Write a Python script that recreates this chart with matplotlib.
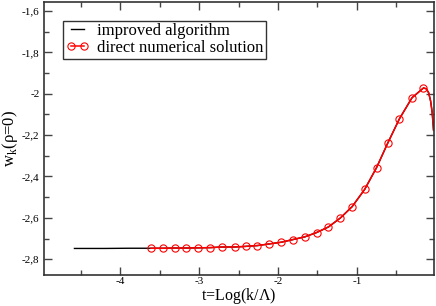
import matplotlib
matplotlib.use("Agg")
import matplotlib.pyplot as plt
from matplotlib.ticker import MultipleLocator, FuncFormatter

# direct numerical solution: circles
circle_t = [-3.61, -3.46, -3.31, -3.16, -3.01, -2.86, -2.71, -2.55, -2.41,
            -2.26, -2.11, -1.96, -1.81, -1.66, -1.51, -1.36, -1.21, -1.06,
            -0.90, -0.75, -0.61, -0.46, -0.30, -0.155]
circle_w = [-2.747, -2.747, -2.746, -2.746, -2.745, -2.744, -2.741, -2.741,
            -2.738, -2.734, -2.726, -2.718, -2.705, -2.692, -2.671, -2.644,
            -2.601, -2.546, -2.462, -2.357, -2.240, -2.121, -2.019, -1.972]
# the red curve runs on past the last circle and falls at the right edge
tail_t = [-0.12, -0.09, -0.065, -0.045, -0.028]
tail_w = [-1.976, -1.995, -2.035, -2.090, -2.175]

# improved algorithm: the visible lead-in, then it sits under the red curve
lead_t = [-4.58, -4.20, -3.90]
lead_w = [-2.748, -2.748, -2.747]

num_t = circle_t + tail_t
num_w = circle_w + tail_w
imp_t = lead_t + num_t
imp_w = lead_w + num_w

serif = ["Liberation Serif", "DejaVu Serif"]
plt.rcParams["font.family"] = serif
plt.rcParams["mathtext.fontset"] = "custom"
plt.rcParams["mathtext.rm"] = "Liberation Serif"

fig = plt.figure(figsize=(4.36, 3.06), dpi=100)
ax = fig.add_axes([0.1002, 0.1029, 0.8941, 0.8915])

ax.plot(imp_t, imp_w, color="black", lw=1.0, label="improved algorithm")
ax.plot(num_t, num_w, color="red", lw=1.1, marker="o", ms=5.2,
        mfc="none", mec="red", mew=0.8, markevery=list(range(len(circle_t))),
        label="direct numerical solution")

ax.set_xlim(-4.97, -0.028)
ax.set_ylim(-2.874, -1.555)

ax.xaxis.set_major_locator(MultipleLocator(1))
ax.xaxis.set_minor_locator(MultipleLocator(0.5))
ax.yaxis.set_major_locator(MultipleLocator(0.2))
ax.yaxis.set_minor_locator(MultipleLocator(0.1))
comma = FuncFormatter(lambda v, p: f"{v:.10g}".replace(".", ",")
                      if abs(v) > 1e-9 else "0")
ax.xaxis.set_major_formatter(comma)
ax.yaxis.set_major_formatter(comma)

ax.tick_params(which="both", direction="in", top=True, right=True,
               labelsize=8, pad=3, color="#444444")
ax.tick_params(axis="x", which="major", pad=2)
ax.tick_params(which="major", length=6, width=1)
ax.tick_params(which="minor", length=3.5, width=1)
for s in ax.spines.values():
    s.set_linewidth(1.2)
    s.set_color("#333333")

ax.set_xlabel(r"t=Log(k/$\Lambda$)", fontsize=11.5, labelpad=0)
ax.set_ylabel(r"w$_\mathregular{k}$(ρ=0)", fontsize=12, labelpad=1)

leg = ax.legend(loc="upper left", bbox_to_anchor=(0.05, 0.93),
                fontsize=12, frameon=True, fancybox=False, borderaxespad=0,
                borderpad=0.15, labelspacing=0.05, handlelength=1.4,
                handletextpad=0.5, numpoints=2)
leg.get_frame().set_edgecolor("black")
leg.get_frame().set_linewidth(1.0)

fig.savefig("out.png", dpi=100)
